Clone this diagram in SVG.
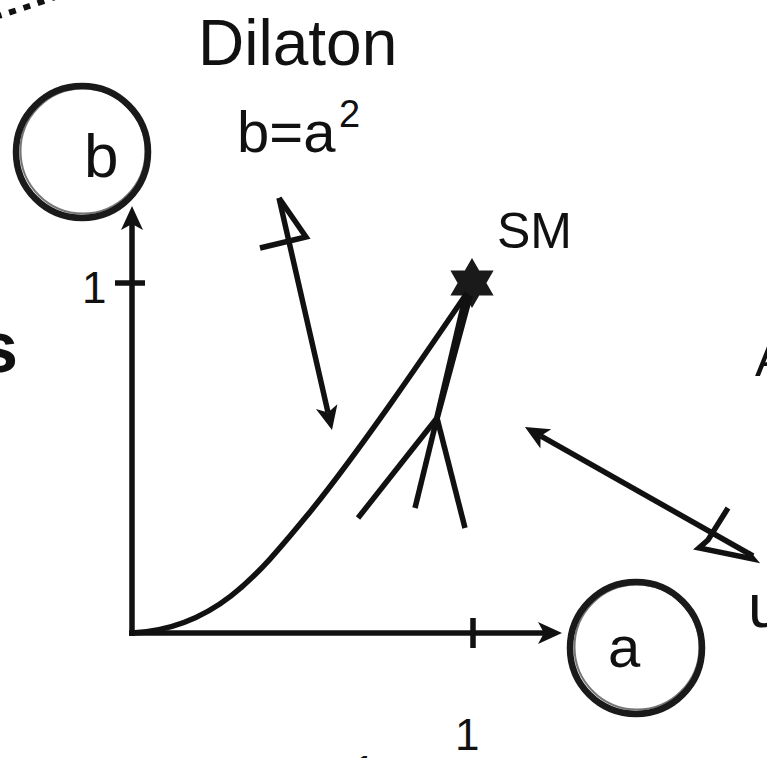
<svg xmlns="http://www.w3.org/2000/svg" width="767" height="758" viewBox="0 0 767 758">
<style>
.ln{fill:none;stroke:#111;stroke-width:5.5;stroke-linecap:butt;stroke-linejoin:miter}
.txt{font-family:"Liberation Sans","DejaVu Sans",sans-serif;fill:#111}
.ring{fill:none;stroke:#1a1a1a}
</style>
<defs>
<marker id="ah" markerUnits="userSpaceOnUse" viewBox="-26 -13 28 26" refX="-18" refY="0" markerWidth="28" markerHeight="26" orient="auto" overflow="visible">
<path d="M0,0 L-24,-11 L-18,0 L-24,11 Z" fill="#111"/>
</marker>
</defs>
<rect width="767" height="758" fill="#fff"/>

<g id="edge-fragments">
<path d="M-5,17 Q25,8 58,-4" fill="none" stroke="#111" stroke-width="6" stroke-dasharray="7 8"/>
<text class="txt" x="-22" y="372" font-size="72" font-weight="bold">s</text>
<text class="txt" x="755" y="376" font-size="50">A</text>
<text class="txt" x="748" y="627" font-size="62">u</text>
<text class="txt" x="352" y="787" font-size="44">1</text>
</g>

<g id="node-b">
<circle class="ring" cx="82" cy="152" r="66" stroke-width="6.5"/>
<circle class="ring" cx="83" cy="151" r="62.5" stroke-width="2" opacity="0.6"/>
<text class="txt" x="84" y="177" font-size="62">b</text>
</g>

<g id="node-a">
<circle class="ring" cx="636" cy="648" r="66" stroke-width="6.5"/>
<circle class="ring" cx="637" cy="647" r="62.5" stroke-width="2" opacity="0.6"/>
<text class="txt" x="608" y="667" font-size="58">a</text>
</g>

<g id="label-dilaton">
<text class="txt" x="198" y="65" font-size="64">Dilaton</text>
<text class="txt" x="237" y="152" font-size="58">b=a</text>
<text class="txt" x="339" y="127" font-size="38">2</text>
</g>

<g id="label-sm">
<text class="txt" x="497" y="248" font-size="50">SM</text>
<polygon points="472,258 479.2,270.5 493.6,270.5 486.4,283 493.6,295.5 479.2,295.5 472,308 464.8,295.5 450.4,295.5 457.6,283 450.4,270.5 464.8,270.5" fill="#1a1a1a"/>
</g>

<g id="tick-labels">
<text class="txt" x="82" y="303" font-size="44">1</text>
<text class="txt" x="455" y="750" font-size="44">1</text>
</g>

<g id="connectors">
<line class="ln" x1="132" y1="636" x2="132" y2="224" marker-end="url(#ah)"/>
<line class="ln" x1="129" y1="633" x2="544" y2="633" marker-end="url(#ah)"/>
<line class="ln" x1="115" y1="283" x2="145" y2="283"/>
<line class="ln" x1="473" y1="618" x2="473" y2="648"/>
<path class="ln" d="M132,633 C215,629 258,575 310,512 C360,450 420,362 467,293"/>
<polygon points="463.2,293.8 472.9,296.2 439.9,418.7 434.1,417.3" fill="#111"/>
<line class="ln" x1="437" y1="418" x2="358" y2="518"/>
<line class="ln" x1="437" y1="418" x2="415" y2="508"/>
<line class="ln" x1="437" y1="418" x2="465" y2="528"/>
<line class="ln" x1="279" y1="198" x2="328" y2="412.5" marker-end="url(#ah)"/>
<polyline class="ln" points="279,198 306,237 260,248"/>
<line class="ln" x1="753" y1="556" x2="540.6" y2="435.9" marker-end="url(#ah)"/>
<polyline class="ln" points="728,508 708,540 699,548 753,559 748,553"/>
</g>
</svg>
